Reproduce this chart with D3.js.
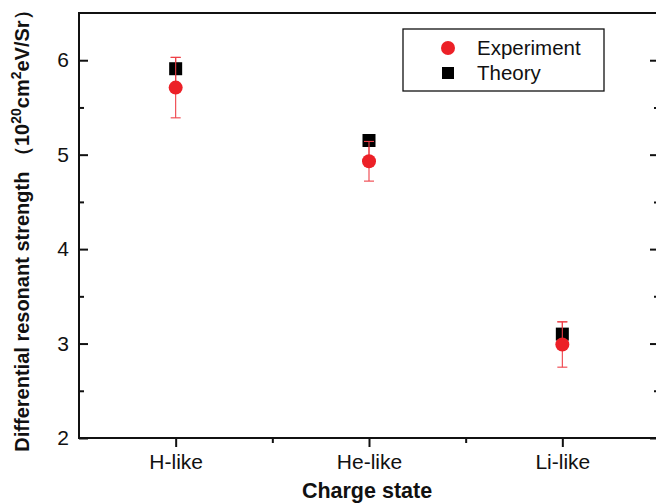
<!DOCTYPE html>
<html>
<head>
<meta charset="utf-8">
<script src="https://cdn.jsdelivr.net/npm/d3@7"></script>
<style>
  body { margin: 0; background: #fff; }
  text { font-family: Arial, "Liberation Sans", sans-serif; }
</style>
</head>
<body>
<div id="chart"></div>
<script>
// data
const categories = ['H-like', 'He-like', 'Li-like'];
const experiment = [5.71, 4.93, 2.99];
const experimentErr = [0.32, 0.21, 0.24];
const theory = [5.91, 5.15, 3.10];
const yTicks = [2, 3, 4, 5, 6];
const yMinorTicks = [2.5, 3.5, 4.5, 5.5];

const width = 656, height = 504;
const margin = { left: 79, right: -3, top: 13, bottom: 66 };

const svg = d3.select('#chart')
  .append('svg')
  .attr('width', width)
  .attr('height', height);

const x = d3.scaleLinear()
  .domain([-0.5, 2.5])
  .range([margin.left, width - margin.right]);

const y = d3.scaleLinear()
  .domain([2, 6.5])
  .range([height - margin.bottom, margin.top]);

const red = '#ec2027';
const errRed = '#ee4048';
const axisColor = '#111';

// left axis, ticks pointing in
svg.append('g')
  .attr('transform', `translate(${margin.left},0)`)
  .call(d3.axisLeft(y).tickValues(yTicks).tickSize(-9).tickPadding(10).tickFormat(d3.format('d')))
  .call(g => g.select('.domain').remove())
  .call(g => g.selectAll('line').attr('stroke', axisColor).attr('stroke-width', 2))
  .call(g => g.selectAll('text').attr('font-size', 21).attr('fill', '#111'));
svg.append('g')
  .attr('transform', `translate(${margin.left},0)`)
  .call(d3.axisLeft(y).tickValues(yMinorTicks).tickSize(-5).tickFormat(''))
  .call(g => g.select('.domain').remove())
  .call(g => g.selectAll('line').attr('stroke', axisColor).attr('stroke-width', 2));

// right axis, ticks pointing in
svg.append('g')
  .attr('transform', `translate(${width - margin.right},0)`)
  .call(d3.axisRight(y).tickValues(yTicks).tickSize(-9).tickFormat(''))
  .call(g => g.select('.domain').remove())
  .call(g => g.selectAll('line').attr('stroke', axisColor).attr('stroke-width', 2));
svg.append('g')
  .attr('transform', `translate(${width - margin.right},0)`)
  .call(d3.axisRight(y).tickValues(yMinorTicks).tickSize(-5).tickFormat(''))
  .call(g => g.select('.domain').remove())
  .call(g => g.selectAll('line').attr('stroke', axisColor).attr('stroke-width', 2));

// bottom axis, ticks pointing out
svg.append('g')
  .attr('transform', `translate(0,${height - margin.bottom})`)
  .call(d3.axisBottom(x).tickValues([0, 1, 2]).tickSize(9).tickPadding(7).tickFormat(i => categories[i]))
  .call(g => g.select('.domain').remove())
  .call(g => g.selectAll('line').attr('stroke', axisColor).attr('stroke-width', 2))
  .call(g => g.selectAll('text').attr('font-size', 21).attr('fill', '#111'));
svg.append('g')
  .attr('transform', `translate(0,${height - margin.bottom})`)
  .call(d3.axisBottom(x).tickValues([0.5, 1.5]).tickSize(5).tickFormat(''))
  .call(g => g.select('.domain').remove())
  .call(g => g.selectAll('line').attr('stroke', axisColor).attr('stroke-width', 2));

// frame
svg.append('rect')
  .attr('x', margin.left)
  .attr('y', margin.top)
  .attr('width', width - margin.right - margin.left)
  .attr('height', height - margin.bottom - margin.top)
  .attr('fill', 'none')
  .attr('stroke', axisColor)
  .attr('stroke-width', 2);

// axis titles
svg.append('text')
  .attr('x', x(1) - 2)
  .attr('y', 498)
  .attr('text-anchor', 'middle')
  .attr('font-size', 21.5)
  .attr('font-weight', 'bold')
  .attr('fill', '#111')
  .text('Charge state');

const yt = svg.append('text')
  .attr('transform', 'translate(29,226) rotate(-90)')
  .attr('text-anchor', 'middle')
  .attr('font-size', 20)
  .attr('font-weight', 'bold')
  .attr('fill', '#111');
yt.append('tspan').text('Differential resonant strength （10');
yt.append('tspan').attr('dy', -8).attr('font-size', 14).text('20');
yt.append('tspan').attr('dy', 8).text('cm');
yt.append('tspan').attr('dy', -8).attr('font-size', 14).text('2');
yt.append('tspan').attr('dy', 8).text('eV/Sr）');

// error bars
const cap = 5;
const drawErr = (g, full) => {
  experiment.forEach((v, i) => {
    const cx = x(i);
    const lo = y(v - experimentErr[i]);
    const hi = y(v + experimentErr[i]);
    g.append('line').attr('x1', cx).attr('x2', cx).attr('y1', full ? lo : y(v)).attr('y2', hi);
    g.append('line').attr('x1', cx - cap).attr('x2', cx + cap).attr('y1', hi).attr('y2', hi);
    if (full) g.append('line').attr('x1', cx - cap).attr('x2', cx + cap).attr('y1', lo).attr('y2', lo);
  });
};
drawErr(svg.append('g').attr('stroke', errRed).attr('stroke-width', 1.1), true);

// theory squares
const sq = 13;
svg.append('g')
  .selectAll('rect')
  .data(theory)
  .join('rect')
  .attr('x', (d, i) => x(i) - sq / 2)
  .attr('y', d => y(d) - sq / 2)
  .attr('width', sq)
  .attr('height', sq)
  .attr('fill', '#000');

// upper half of the bars shows over the squares
drawErr(svg.append('g').attr('stroke', errRed).attr('stroke-width', 1.1), false);

// experiment circles
svg.append('g')
  .selectAll('circle')
  .data(experiment)
  .join('circle')
  .attr('cx', (d, i) => x(i))
  .attr('cy', d => y(d))
  .attr('r', 7)
  .attr('fill', red);

// legend
const lg = svg.append('g');
lg.append('rect')
  .attr('x', 403).attr('y', 29)
  .attr('width', 201).attr('height', 62)
  .attr('fill', '#fff')
  .attr('stroke', '#111')
  .attr('stroke-width', 1.3);
lg.append('circle').attr('cx', 448).attr('cy', 48).attr('r', 7).attr('fill', red);
lg.append('rect').attr('x', 442).attr('y', 67).attr('width', 12).attr('height', 12).attr('fill', '#000');
lg.append('text').attr('x', 477).attr('y', 55).attr('font-size', 20.5).attr('fill', '#111').text('Experiment');
lg.append('text').attr('x', 477).attr('y', 80).attr('font-size', 20.5).attr('fill', '#111').text('Theory');
</script>
</body>
</html>
